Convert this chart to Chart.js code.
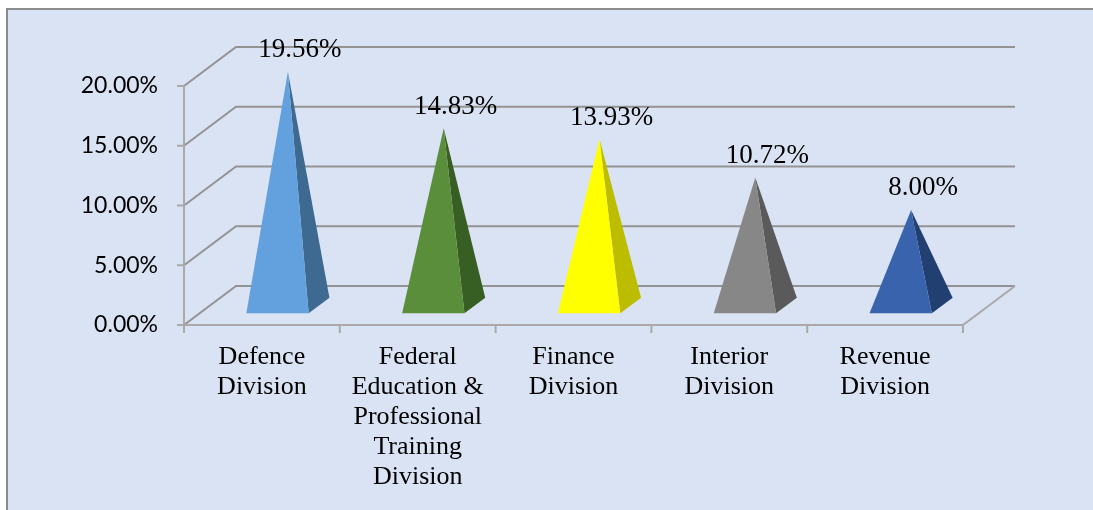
<!DOCTYPE html>
<html>
<head>
<meta charset="utf-8">
<script src="https://cdn.jsdelivr.net/npm/chart.js@4"></script>
<style>
  body { margin: 0; background: #fff; }
  #wrap { width: 1093px; height: 510px; }
</style>
</head>
<body>
<div id="wrap"><canvas id="grafico"></canvas></div>
<script>
// data
const categories = [
  ['Defence', 'Division'],
  ['Federal', 'Education &', 'Professional', 'Training', 'Division'],
  ['Finance', 'Division'],
  ['Interior', 'Division'],
  ['Revenue', 'Division']
];
const shares = [19.56, 14.83, 13.93, 10.72, 8.00];
const yTicks = [0, 5, 10, 15, 20];
const frontColors = ['#62a1de', '#5b8e3b', '#ffff00', '#878787', '#3a63ad'];
const sideColors = ['#3e6a92', '#375e23', '#bdbd00', '#5a5a5a', '#223f72'];

// 3d look
const DX = 52, DY = -39;          // depth of the floor / back wall
const F1 = 0.3, F2 = 0.7;         // pyramid base depth (front, back)
const SERIF = 'Liberation Serif, serif';

const fmt = v => v.toFixed(2) + '%';

const pyramidPlugin = {
  id: 'pyramids',
  beforeDraw(chart) {
    const c = chart.ctx;
    c.save();
    c.fillStyle = '#ffffff';
    c.fillRect(0, 0, chart.width, chart.height);
    c.fillStyle = '#dae3f3';
    c.fillRect(7, 9, chart.width, chart.height);
    c.strokeStyle = '#8c8c8c';
    c.lineWidth = 2;
    c.beginPath();
    c.moveTo(7, chart.height + 2);
    c.lineTo(7, 9);
    c.lineTo(chart.width + 2, 9);
    c.stroke();
    c.restore();
  },
  beforeDatasetsDraw(chart) {
    const c = chart.ctx;
    const { left, right, top, bottom } = chart.chartArea;
    const ys = chart.scales.y;
    c.save();
    c.lineWidth = 2;
    // back wall grid
    c.strokeStyle = '#939393';
    yTicks.forEach(t => {
      const y = ys.getPixelForValue(t);
      c.beginPath();
      c.moveTo(left, y);
      c.lineTo(left + DX, y + DY);
      c.lineTo(right + DX, y + DY);
      c.stroke();
    });
    // floor + axes
    c.strokeStyle = '#a9a9a9';
    c.beginPath();
    c.moveTo(left, top);
    c.lineTo(left, bottom);
    c.lineTo(right, bottom);
    c.lineTo(right + DX, bottom + DY);
    c.stroke();
    // tick marks
    yTicks.forEach(t => {
      const y = ys.getPixelForValue(t);
      c.beginPath();
      c.moveTo(left - 7, y);
      c.lineTo(left, y);
      c.stroke();
    });
    const w = (right - left) / categories.length;
    for (let i = 0; i <= categories.length; i++) {
      const x = left + i * w;
      c.beginPath();
      c.moveTo(x, bottom);
      c.lineTo(x, bottom + 8);
      c.stroke();
    }
    c.restore();
  },
  afterDatasetsDraw(chart) {
    const c = chart.ctx;
    const ys = chart.scales.y;
    const base = ys.getPixelForValue(0);
    const meta = chart.getDatasetMeta(0);
    c.save();
    meta.data.forEach((bar, i) => {
      const hw = bar.width / 2;
      const cx = bar.x, vy = bar.y;
      const fl = [cx - hw + F1 * DX, base + F1 * DY];
      const fr = [cx + hw + F1 * DX, base + F1 * DY];
      const br = [cx + hw + F2 * DX, base + F2 * DY];
      const apex = [cx + 0.5 * DX, vy + 0.5 * DY];
      // side face
      c.fillStyle = sideColors[i];
      c.beginPath();
      c.moveTo(fr[0], fr[1]);
      c.lineTo(br[0], br[1]);
      c.lineTo(apex[0], apex[1]);
      c.closePath();
      c.fill();
      // front face
      c.fillStyle = frontColors[i];
      c.beginPath();
      c.moveTo(fl[0], fl[1]);
      c.lineTo(fr[0], fr[1]);
      c.lineTo(apex[0], apex[1]);
      c.closePath();
      c.fill();
      // value label
      c.fillStyle = '#000';
      c.font = '27px ' + SERIF;
      c.textAlign = 'center';
      c.textBaseline = 'middle';
      c.fillText(fmt(shares[i]), apex[0] + 12, vy + DY - 2);
    });
    c.restore();
  }
};

const ctx = document.getElementById('grafico').getContext('2d');
const grafico = new Chart(ctx, {
  type: 'bar',
  data: {
    labels: categories,
    datasets: [{
      label: 'Share',
      data: shares,
      backgroundColor: 'rgba(0,0,0,0)',
      borderWidth: 0,
      barPercentage: 0.4,
      categoryPercentage: 1
    }]
  },
  options: {
    responsive: true,
    maintainAspectRatio: false,
    animation: false,
    layout: { padding: { top: 86, right: 130, bottom: 0, left: 0 } },
    plugins: { legend: { display: false }, tooltip: { enabled: false } },
    scales: {
      x: {
        grid: { display: false, drawTicks: false },
        border: { display: false },
        ticks: {
          color: '#000',
          padding: 17,
          maxRotation: 0,
          autoSkip: false,
          font: { family: SERIF, size: 26, lineHeight: '30px' }
        },
        afterFit(scale) { scale.height = 185; }
      },
      y: {
        min: 0,
        max: 20,
        grid: { display: false, drawTicks: false },
        border: { display: false },
        ticks: {
          stepSize: 5,
          color: '#000',
          padding: 26,
          font: { family: 'Lato, sans-serif', size: 23 },
          callback: v => fmt(v)
        },
        afterFit(scale) { scale.width = 184; }
      }
    }
  },
  plugins: [pyramidPlugin]
});
</script>
</body>
</html>
